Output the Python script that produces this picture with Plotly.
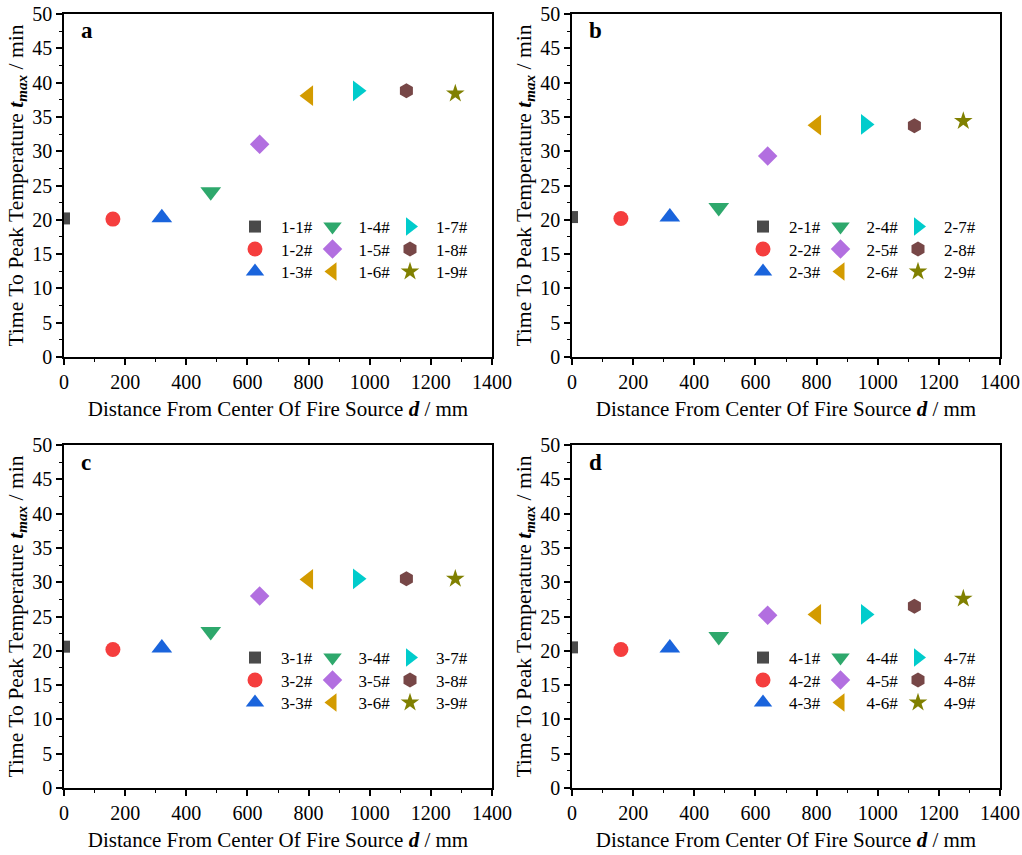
import plotly.graph_objects as go

W, H = 1022, 855

# ---- data ----
distance_mm = [0, 160, 320, 480, 640, 800, 960, 1120, 1280]
t_max_a = [20.2, 20.1, 20.3, 24.1, 31.0, 38.1, 38.8, 38.8, 38.4]
t_max_b = [20.4, 20.2, 20.4, 21.8, 29.3, 33.8, 33.9, 33.7, 34.4]
t_max_c = [20.6, 20.2, 20.4, 22.8, 28.0, 30.4, 30.5, 30.5, 30.5]
t_max_d = [20.5, 20.2, 20.4, 22.1, 25.2, 25.3, 25.3, 26.5, 27.6]
panel_labels = ["a", "b", "c", "d"]
group_ids = ["1", "2", "3", "4"]
x_ticks = [0, 200, 400, 600, 800, 1000, 1200, 1400]
y_ticks = [0, 5, 10, 15, 20, 25, 30, 35, 40, 45, 50]

series = [t_max_a, t_max_b, t_max_c, t_max_d]

symbols = ["square", "circle", "triangle-up", "triangle-down", "diamond",
           "triangle-left", "triangle-right", "hexagon", "star"]
colors = ["#4a4a4a", "#f53e3e", "#1a64dc", "#2ea86c", "#b26fe0",
          "#d39b00", "#00cccc", "#774747", "#808000"]
sizes = [12, 15, 18, 18, 15, 18, 18, 15, 14]

FONT = "Liberation Serif, Times New Roman, serif"

# plot boxes in px: left, right, top, bottom
boxes = [(64, 492, 14, 357), (572, 1000, 14, 357),
         (64, 492, 445, 788), (572, 1000, 445, 788)]

fig = go.Figure()
layout = dict(
    width=W, height=H, margin=dict(l=0, r=0, t=0, b=0),
    paper_bgcolor="white", plot_bgcolor="white",
    font=dict(family=FONT, size=20, color="black"),
    showlegend=True,
)
annotations = []

for i, vals in enumerate(series):
    k = i + 1
    xa = "xaxis" if k == 1 else f"xaxis{k}"
    ya = "yaxis" if k == 1 else f"yaxis{k}"
    xr = "x" if k == 1 else f"x{k}"
    yr = "y" if k == 1 else f"y{k}"
    L, R, T, B = boxes[i]
    layout[xa] = dict(
        domain=[L / W, R / W], anchor=yr, range=[0, 1400],
        tickvals=x_ticks, ticktext=[str(v) for v in x_ticks],
        ticks="outside", ticklen=6, tickwidth=1.5, tickcolor="black",
        minor=dict(dtick=100, tick0=0, ticks="outside", ticklen=3.5, tickwidth=1.2, tickcolor="black"),
        showline=True, linecolor="black", linewidth=1.5, mirror=True,
        showgrid=False, zeroline=False,
        tickfont=dict(family=FONT, size=20, color="black"),
        title=dict(text="Distance From Center Of Fire Source <b><i>d</i></b> / mm",
                   font=dict(family=FONT, size=21, color="black"), standoff=10),
        automargin=False,
    )
    layout[ya] = dict(
        domain=[1 - B / H, 1 - T / H], anchor=xr, range=[0, 50],
        tickvals=y_ticks, ticktext=[str(v) for v in y_ticks],
        ticks="outside", ticklen=6, tickwidth=1.5, tickcolor="black",
        minor=dict(dtick=2.5, tick0=0, ticks="outside", ticklen=3.5, tickwidth=1.2, tickcolor="black"),
        showline=True, linecolor="black", linewidth=1.5, mirror=True,
        showgrid=False, zeroline=False,
        tickfont=dict(family=FONT, size=20, color="black"),
        title=dict(text="Time To Peak Temperature <b><i>t<sub>max</sub></i></b> / min",
                   font=dict(family=FONT, size=21.6, color="black"), standoff=3),
        automargin=False,
    )
    for j in range(9):
        idx = i * 9 + j
        lg = "legend" if idx == 0 else f"legend{idx + 1}"
        fig.add_trace(go.Scatter(
            x=[distance_mm[j]], y=[vals[j]], mode="markers",
            name=f"{group_ids[i]}-{j + 1}#",
            marker=dict(symbol=symbols[j], color=colors[j], size=sizes[j],
                        line=dict(width=0)),
            xaxis=xr, yaxis=yr, legend=lg, cliponaxis=True,
        ))
        col, row = j // 3, j % 3
        left = L + 191 - 26 + col * 77.5
        center = T + 213 + row * 22.5
        layout[lg] = dict(
            x=left / W, y=1 - center / H, xanchor="left", yanchor="middle",
            bgcolor="rgba(0,0,0,0)", borderwidth=0,
            font=dict(family=FONT, size=17, color="black"),
            itemwidth=42, tracegroupgap=0,
        )
    annotations.append(dict(
        x=(L + 15) / W, y=1 - (T + 17) / H, xref="paper", yref="paper",
        xanchor="left", yanchor="middle", showarrow=False,
        text=f"<b>{panel_labels[i]}</b>",
        font=dict(family=FONT, size=23, color="black"),
    ))

layout["annotations"] = annotations
fig.update_layout(**layout)
fig.write_html("out.html")
